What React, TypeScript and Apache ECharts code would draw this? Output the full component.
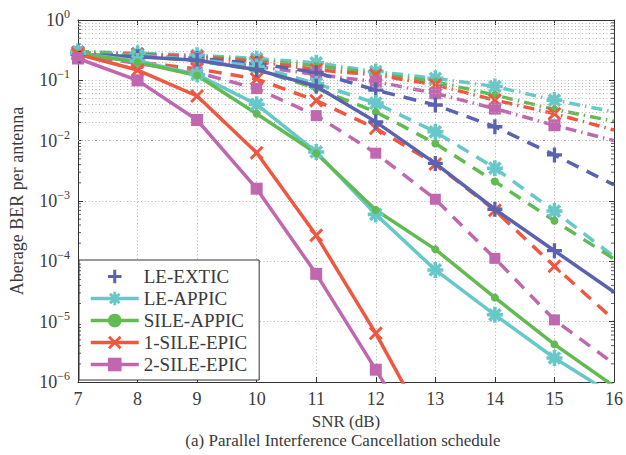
import React, { useEffect, useRef } from "react";
import * as echarts from "echarts";

// ---------- data ----------
const SNR = [7, 8, 9, 10, 11, 12, 13, 14, 15, 16];
const X_TICKS = [7, 8, 9, 10, 11, 12, 13, 14, 15, 16];
const NAMES = ["LE-EXTIC", "LE-APPIC", "SILE-APPIC", "1-SILE-EPIC", "2-SILE-EPIC"];

// solid curves
const LE_EXTIC_SOLID = [0.27, 0.245, 0.215, 0.15, 0.08, 0.0205, 4.2e-3, 7.3e-4, 1.5e-4, 3.1e-5];
const LE_APPIC_SOLID = [0.28, 0.21, 0.125, 0.04, 6.5e-3, 6.0e-4, 7.2e-5, 1.3e-5, 2.5e-6, 6e-7];
const SILE_APPIC_SOLID = [0.28, 0.2, 0.12, 0.028, 6.2e-3, 7.1e-4, 1.58e-4, 2.5e-5, 4.2e-6, 8.5e-7];
const SILE1_EPIC_SOLID = [0.27, 0.148, 0.055, 6.3e-3, 2.7e-4, 6.4e-6, 1e-7, null, null, null];
const SILE2_EPIC_SOLID = [0.23, 0.1, 0.022, 1.6e-3, 6.2e-5, 1.6e-6, 4e-8, null, null, null];

// dashed curves
const LE_EXTIC_DASH = [0.28, 0.25, 0.23, 0.19, 0.135, 0.069, 0.039, 0.017, 5.8e-3, 1.85e-3];
const LE_APPIC_DASH = [0.29, 0.26, 0.22, 0.17, 0.088, 0.042, 0.014, 3.5e-3, 6.8e-4, 1.2e-4];
const SILE_APPIC_DASH = [0.29, 0.255, 0.21, 0.15, 0.074, 0.03, 9e-3, 2.1e-3, 4.7e-4, 1.1e-4];
const SILE1_EPIC_DASH = [0.28, 0.2, 0.155, 0.105, 0.046, 0.016, 4.1e-3, 7e-4, 8.3e-5, 1.07e-5];
const SILE2_EPIC_DASH = [0.27, 0.19, 0.135, 0.073, 0.026, 6.2e-3, 1.07e-3, 1.12e-4, 1.07e-5, 2e-6];

// dash-dot curves
const LE_APPIC_DD = [0.3, 0.28, 0.26, 0.23, 0.195, 0.14, 0.108, 0.079, 0.047, 0.03];
const SILE_APPIC_DD = [0.3, 0.275, 0.25, 0.215, 0.175, 0.13, 0.095, 0.057, 0.033, 0.021];
const SILE1_EPIC_DD = [0.29, 0.27, 0.245, 0.205, 0.15, 0.123, 0.084, 0.047, 0.028, 0.015];
const SILE2_EPIC_DD = [0.29, 0.26, 0.23, 0.17, 0.125, 0.095, 0.061, 0.034, 0.018, 0.01];

const DECADES = [-6, -5, -4, -3, -2, -1];
const MINOR_MULT = [2, 3, 4, 5, 6, 7, 8, 9];

// ---------- styles ----------
const FONT = "Liberation Serif";
const TXT = "#3a3a3a";
const BLUE = "#5b63b0";
const CYAN = "#67c8ca";
const GREEN = "#62ba52";
const RED = "#ee5840";
const PURPLE = "#c067b0";

const PLUS =
  "path://M7.8,0L12.2,0L12.2,7.8L20,7.8L20,12.2L12.2,12.2L12.2,20L7.8,20L7.8,12.2L0,12.2L0,7.8L7.8,7.8Z";
const STAR =
  "path://M0,7.8L20,7.8L20,12.2L0,12.2Z" +
  "M7.8,0L12.2,0L12.2,20L7.8,20Z" +
  "M4.56,1.44L18.56,15.44L15.44,18.56L1.44,4.56Z" +
  "M15.44,1.44L18.56,4.56L4.56,18.56L1.44,15.44Z";
const CROSS =
  "path://M2.56,-0.56L20.56,17.44L17.44,20.56L-0.56,2.56Z" +
  "M17.44,-0.56L20.56,2.56L2.56,20.56L-0.56,17.44Z";

const DASH = [13, 9];
const DASHDOT = [11, 5, 1.5, 5];

function makeSeries(
  name: string,
  values: (number | null)[],
  color: string,
  symbol: string,
  symbolSize: number,
  lineType: any,
  z: number
) {
  const data: any[] = [];
  values.forEach((v, i) => {
    if (v == null) return;
    const hide = i === values.length - 1 || v < 1e-6;
    data.push(hide ? { value: [SNR[i], v], symbol: "none" } : [SNR[i], v]);
  });
  return {
    type: "line",
    name,
    data,
    z,
    symbol,
    symbolSize,
    showAllSymbol: true,
    clip: true,
    lineStyle: { color, width: 3.5, type: lineType },
    itemStyle: { color },
    emphasis: { disabled: true },
  };
}

export default function App() {
  const ref = useRef<HTMLDivElement>(null);

  useEffect(() => {
    if (!ref.current) return;
    const chart = echarts.init(ref.current, undefined, { renderer: "svg" });

    const minorVals: number[] = [];
    DECADES.forEach((d) => MINOR_MULT.forEach((m) => minorVals.push(m * Math.pow(10, d))));

    const supText = (v: number) => {
      const e = Math.round(Math.log10(v));
      return `{b|10}{e|${e === 0 ? "0" : "\u2212" + -e}}`;
    };

    const series: any[] = [
      // solid
      makeSeries(NAMES[0], LE_EXTIC_SOLID, BLUE, PLUS, 15, "solid", 6),
      makeSeries(NAMES[1], LE_APPIC_SOLID, CYAN, STAR, 16, "solid", 6),
      makeSeries(NAMES[2], SILE_APPIC_SOLID, GREEN, "circle", 8, "solid", 6),
      makeSeries(NAMES[3], SILE1_EPIC_SOLID, RED, CROSS, 14, "solid", 6),
      makeSeries(NAMES[4], SILE2_EPIC_SOLID, PURPLE, "rect", 12, "solid", 6),
      // dashed
      makeSeries(NAMES[0], LE_EXTIC_DASH, BLUE, PLUS, 15, DASH, 5),
      makeSeries(NAMES[1], LE_APPIC_DASH, CYAN, STAR, 16, DASH, 5),
      makeSeries(NAMES[2], SILE_APPIC_DASH, GREEN, "circle", 8, DASH, 5),
      makeSeries(NAMES[3], SILE1_EPIC_DASH, RED, CROSS, 14, DASH, 5),
      makeSeries(NAMES[4], SILE2_EPIC_DASH, PURPLE, "rect", 11, DASH, 5),
      // dash-dot
      makeSeries(NAMES[1], LE_APPIC_DD, CYAN, STAR, 16, DASHDOT, 4),
      makeSeries(NAMES[2], SILE_APPIC_DD, GREEN, "circle", 8, DASHDOT, 4),
      makeSeries(NAMES[3], SILE1_EPIC_DD, RED, CROSS, 14, DASHDOT, 4),
      makeSeries(NAMES[4], SILE2_EPIC_DD, PURPLE, "rect", 12, DASHDOT, 4),
      // minor grid lines (log 2..9 per decade)
      {
        type: "line",
        name: "_minorgrid",
        data: [],
        z: 1,
        silent: true,
        markLine: {
          silent: true,
          symbol: ["none", "none"],
          label: { show: false },
          animation: false,
          lineStyle: { type: [1, 2.5], color: "#b4b4b4", width: 1 },
          emphasis: { disabled: true },
          data: minorVals.map((v) => ({ yAxis: v })),
        },
      },
      // minor ticks left
      {
        type: "scatter",
        name: "_minortickL",
        clip: false,
        silent: true,
        z: 8,
        symbol: "rect",
        symbolSize: [3, 1],
        symbolOffset: [1.5, 0],
        itemStyle: { color: "#333" },
        data: minorVals.map((v) => [X_TICKS[0], v]),
      },
      // minor ticks right
      {
        type: "scatter",
        name: "_minortickR",
        clip: false,
        silent: true,
        z: 8,
        symbol: "rect",
        symbolSize: [3, 1],
        symbolOffset: [-1.5, 0],
        itemStyle: { color: "#333" },
        data: minorVals.map((v) => [X_TICKS[X_TICKS.length - 1], v]),
      },
    ];

    const axisLine = { show: true, lineStyle: { color: "#333", width: 1 } };
    const gridDot = { show: true, lineStyle: { type: [1, 2.5], color: "#b4b4b4", width: 1 } };

    chart.setOption({
      animation: false,
      backgroundColor: "#fff",
      textStyle: { fontFamily: FONT, color: TXT },
      grid: { left: 70, right: 10, top: 20, bottom: 73 },
      legend: {
        orient: "vertical",
        left: 79,
        top: 260,
        padding: [7, 12, 6, 10],
        itemGap: 3,
        itemWidth: 48,
        itemHeight: 17,
        backgroundColor: "#fff",
        borderColor: "#333",
        borderWidth: 1,
        borderRadius: 0,
        selectedMode: false,
        lineStyle: { width: 3.5 },
        textStyle: { fontFamily: FONT, fontSize: 19, color: TXT },
        data: [
          { name: NAMES[0], lineStyle: { opacity: 0 } },
          { name: NAMES[1] },
          { name: NAMES[2] },
          { name: NAMES[3] },
          { name: NAMES[4] },
        ],
      },
      xAxis: [
        {
          type: "value",
          min: 7,
          max: 16,
          interval: 1,
          name: "SNR (dB)",
          nameLocation: "middle",
          nameGap: 28,
          nameTextStyle: { fontFamily: FONT, fontSize: 17, color: TXT, verticalAlign: "top" },
          axisLine,
          axisTick: { show: true, inside: true, length: 5, lineStyle: { color: "#333" } },
          axisLabel: { fontFamily: FONT, fontSize: 18, color: TXT, margin: 8 },
          splitLine: gridDot,
        },
        {
          type: "value",
          position: "top",
          min: 7,
          max: 16,
          interval: 1,
          axisLine,
          axisTick: { show: true, inside: true, length: 5, lineStyle: { color: "#333" } },
          axisLabel: { show: false },
          splitLine: { show: false },
        },
      ],
      yAxis: [
        {
          type: "log",
          logBase: 10,
          min: 1e-6,
          max: 1,
          splitNumber: 6,
          name: "Aberage BER per antenna",
          nameLocation: "middle",
          nameGap: 52,
          nameTextStyle: { fontFamily: FONT, fontSize: 18, color: TXT },
          axisLine,
          axisTick: { show: true, inside: true, length: 5, lineStyle: { color: "#333" } },
          axisLabel: {
            margin: 8,
            fontFamily: FONT,
            formatter: supText,
            rich: {
              b: { fontFamily: FONT, fontSize: 18, color: TXT },
              e: { fontFamily: FONT, fontSize: 12, color: TXT, padding: [0, 0, 12, 0] },
            },
          },
          splitLine: gridDot,
        },
        {
          type: "log",
          logBase: 10,
          min: 1e-6,
          max: 1,
          splitNumber: 6,
          position: "right",
          axisLine,
          axisTick: { show: true, inside: true, length: 5, lineStyle: { color: "#333" } },
          axisLabel: { show: false },
          splitLine: { show: false },
        },
      ],
      graphic: [
        {
          type: "text",
          x: 343,
          y: 440,
          silent: true,
          style: {
            text: "(a) Parallel Interference Cancellation schedule",
            fontFamily: FONT,
            fontSize: 17,
            fill: TXT,
            align: "center",
            verticalAlign: "middle",
          },
        },
      ],
      series,
    });

    return () => chart.dispose();
  }, []);

  return (
    <div
      ref={ref}
      style={{ position: "fixed", left: 0, top: 0, width: 626, height: 455, background: "#fff" }}
    />
  );
}
